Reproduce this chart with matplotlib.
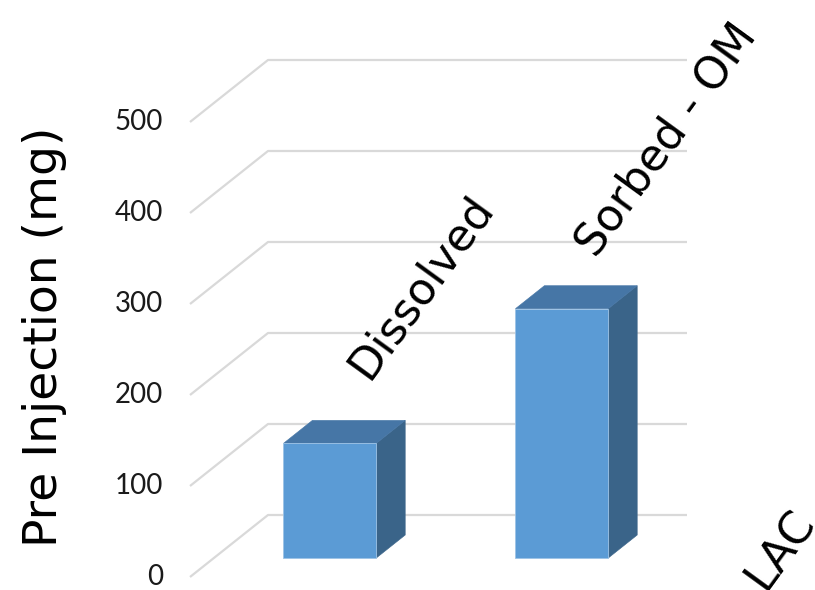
import matplotlib
matplotlib.use("Agg")
import matplotlib.pyplot as plt
from matplotlib.patches import Polygon

# ---- data ----
categories = ["Dissolved", "Sorbed - OM", "LAC"]
values = [126, 274, 0]
y_ticks = [0, 100, 200, 300, 400, 500]
y_label = "Pre Injection (mg)"

# ---- figure / pixel-calibrated frame ----
W, H = 815, 590
fig = plt.figure(figsize=(W / 100, H / 100), dpi=100)
ax = fig.add_axes([0, 0, 1, 1])
ax.set_axis_off()

CAT_PX = 232.0   # pixels per category
MG_PX = 0.91     # pixels per mg
X0_PX = 190.0    # front-left floor corner (px from left)
Y0_PX = 577.0    # front-left floor corner (px from top)
x_left = -0.5 - X0_PX / CAT_PX
y_top = Y0_PX / MG_PX
ax.set_xlim(x_left, x_left + W / CAT_PX)
ax.set_ylim(y_top - H / MG_PX, y_top)

# oblique depth of the chart box (data units)
DX = 78.0 / CAT_PX
DY = 62.0 / MG_PX
X_END = (687.0 - X0_PX) / CAT_PX - 0.5

GRID = "#D9D9D9"
FRONT = "#5B9BD5"
TOP = "#4676A6"
SIDE = "#3A6489"

# gridlines: oblique segment on the side wall then along the back wall
for v in y_ticks:
    ax.plot([-0.5, -0.5 + DX, X_END], [v, v + DY, v + DY],
            color=GRID, lw=1.6, zorder=1, solid_capstyle="butt")

# 3-D columns
BAR_W = 0.40
F0, F1 = 0.306, 0.677
dd = (F1 - F0) * DX
for i, v in enumerate(values):
    if v <= 0:
        continue
    xl = i - BAR_W / 2 + F0 * DX
    xr = xl + BAR_W
    yb0, yb1 = F0 * DY, F1 * DY
    front = Polygon([(xl, yb0), (xr, yb0), (xr, v + yb0), (xl, v + yb0)],
                    closed=True, facecolor=FRONT, edgecolor="#9DC3E6", lw=0.6, zorder=3)
    side = Polygon([(xr, yb0), (xr + dd, yb1), (xr + dd, v + yb1), (xr, v + yb0)],
                   closed=True, facecolor=SIDE, edgecolor=SIDE, lw=0.4, zorder=3)
    top = Polygon([(xl, v + yb0), (xr, v + yb0), (xr + dd, v + yb1), (xl + dd, v + yb1)],
                  closed=True, facecolor=TOP, edgecolor=TOP, lw=0.4, zorder=3)
    for p in (side, top, front):
        ax.add_patch(p)

# value axis labels
TICK_X = (163.0 - X0_PX) / CAT_PX - 0.5
for v in y_ticks:
    ax.text(TICK_X, v, str(v), ha="right", va="center",
            fontsize=20, family="Lato", color="#1a1a1a", zorder=4)

# axis title
fig.text(45 / W, 1 - 337 / H, y_label, rotation=90, ha="center", va="center",
         fontsize=34, family="DejaVu Sans", color="black")

# category labels (rotated)
label_pos = [(421, 287), (666, 140), (781, 549)]
for name, (px, py) in zip(categories, label_pos):
    fig.text(px / W, 1 - py / H, name, rotation=54, rotation_mode="anchor",
             ha="center", va="center", fontsize=32, family="DejaVu Sans",
             color="black", zorder=5)

fig.savefig("out.png", dpi=100)
